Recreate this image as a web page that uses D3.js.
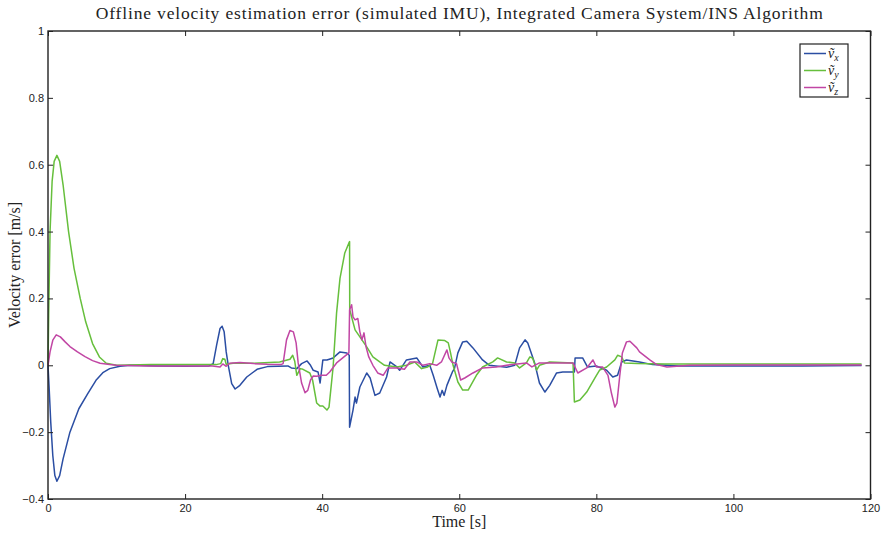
<!DOCTYPE html>
<html>
<head>
<meta charset="utf-8">
<script src="https://cdn.jsdelivr.net/npm/d3@7"></script>
<style>
  body { margin: 0; background: #fff; }
  .tick text { font-family: "Liberation Sans", Arial, sans-serif; font-size: 11px; fill: #222; }
  .serif { font-family: "Liberation Serif", "Times New Roman", serif; fill: #222; }
</style>
</head>
<body>
<script>
// Velocity error data: [time s, error m/s]
const vxPoints = [
  [0,0],[0.15,-0.06],[0.4,-0.17],[0.7,-0.27],[1.0,-0.33],[1.3,-0.347],[1.7,-0.33],[2.2,-0.28],[3.2,-0.2],
  [4.5,-0.13],[5.8,-0.085],[7,-0.045],[8,-0.022],[9,-0.01],[10.5,-0.003],[12,0],[16,-0.002],[20,-0.003],
  [23.5,-0.002],[24.1,0.005],[24.6,0.06],[25.1,0.11],[25.4,0.117],[25.7,0.1],[26,0.04],[26.3,0],[26.8,-0.055],
  [27.3,-0.071],[28,-0.06],[29,-0.035],[30.5,-0.012],[32,-0.004],[35,-0.002],[35.5,-0.008],[36.3,-0.01],
  [37,0.005],[37.8,0.013],[38.3,0],[38.7,-0.015],[39.4,-0.02],[39.7,-0.053],[40.1,0.016],[40.7,0.016],
  [41.6,0.022],[42.6,0.04],[43.6,0.037],[43.95,0.03],[44.0,-0.185],[44.5,-0.134],[44.8,-0.095],[45.0,-0.113],
  [45.5,-0.065],[46.5,-0.023],[47.0,-0.038],[47.7,-0.09],[48.4,-0.083],[49.4,-0.035],[49.9,0.01],[50.9,-0.005],
  [51.3,-0.015],[52.3,0.016],[53.8,0.022],[54.7,-0.005],[55.7,0],[56.2,-0.03],[56.8,-0.07],[57.2,-0.095],
  [57.5,-0.075],[57.8,-0.09],[58.2,-0.06],[58.6,-0.04],[59.0,-0.02],[59.3,-0.01],[59.8,0.037],[60.5,0.07],
  [61.1,0.072],[62,0.052],[63.4,0.016],[64.4,0],[66.9,-0.006],[68.1,0],[68.8,0.052],[69.6,0.076],[70.0,0.067],
  [71,0.007],[71.7,-0.053],[72.5,-0.08],[73.2,-0.06],[74.2,-0.023],[75.1,-0.02],[76.8,-0.02],[76.9,0.022],
  [78,0.022],[78.7,-0.005],[80,-0.002],[81.5,-0.015],[82.4,-0.035],[83.1,-0.03],[83.7,0.01],[84.4,0.016],
  [86.3,0.01],[88.2,0.002],[92,-0.002],[100,-0.002],[110,-0.002],[118.7,-0.001]
];
const vyPoints = [
  [0,0],[0.1,0.15],[0.3,0.4],[0.6,0.55],[0.9,0.61],[1.3,0.628],[1.7,0.61],[2.2,0.54],[3,0.4],[3.8,0.29],
  [4.7,0.2],[5.5,0.13],[6.5,0.065],[7.5,0.025],[8.5,0.006],[10,0],[15,0.002],[20,0.002],[24.5,0.002],
  [25.2,0.005],[25.5,0.02],[25.8,0.018],[26,0.003],[27,0.006],[30,0.006],[33.8,0.01],[35.3,0.018],[35.7,0.03],
  [36.0,0.012],[36.3,-0.03],[36.8,-0.01],[37.2,-0.012],[38.2,-0.023],[38.6,-0.044],[39.2,-0.113],[39.7,-0.122],
  [40.1,-0.122],[40.7,-0.134],[41.0,-0.125],[41.6,-0.005],[42.1,0.156],[42.6,0.26],[43.3,0.336],[43.9,0.366],
  [44.0,0.37],[44.02,0.166],[44.8,0.106],[45.5,0.085],[46.5,0.055],[47.4,0.025],[48.4,0.01],[49.1,0],
  [50.9,-0.005],[52.3,0],[53.5,0.01],[54.5,-0.01],[55.4,-0.005],[56.1,0.005],[56.9,0.076],[57.9,0.074],
  [58.4,0.067],[58.7,0.04],[59.1,0],[59.8,-0.05],[60.5,-0.074],[61.3,-0.074],[62.5,-0.03],[63.4,-0.005],
  [64.9,0.01],[65.6,0.022],[66.9,0.01],[68.1,0.007],[68.8,-0.008],[69.8,0.007],[70.3,0.025],[70.7,0.022],
  [71.3,-0.014],[71.7,0],[73.2,0.01],[76.6,0.007],[76.8,-0.11],[77.6,-0.104],[78.6,-0.08],[79.8,-0.038],
  [80.5,-0.014],[81.5,-0.005],[82.7,0.016],[83.1,0.03],[83.7,0.025],[84.1,0.007],[86,0.005],[90,0.004],
  [100,0.004],[110,0.004],[118.7,0.004]
];
const vzPoints = [
  [0,0],[0.3,0.04],[0.7,0.075],[1.2,0.091],[1.8,0.085],[2.5,0.07],[3.2,0.056],[4.3,0.04],[5.4,0.026],
  [6.5,0.014],[7.6,0.006],[9,0.002],[10,0],[15,-0.002],[20,-0.002],[24,-0.002],[25.1,-0.005],[25.5,0.004],
  [26,-0.003],[26.5,0.006],[28,0.008],[30,0.005],[32,0.003],[34,0.002],[34.3,0.005],[34.8,0.076],[35.3,0.104],
  [35.8,0.1],[36.2,0.067],[36.5,0.007],[37,-0.053],[37.5,-0.082],[37.9,-0.075],[38.3,-0.044],[38.7,-0.032],
  [39.2,-0.033],[39.9,-0.03],[40.6,-0.03],[41.1,-0.02],[42.1,0.007],[43,0.022],[43.9,0.037],[44.0,0.166],
  [44.3,0.181],[44.5,0.145],[44.8,0.136],[45.2,0.14],[45.5,0.1],[45.8,0.076],[46.1,0.097],[46.4,0.055],
  [46.8,0.025],[47.4,0],[48.1,-0.023],[48.9,-0.03],[49.6,-0.008],[50.9,-0.008],[52,-0.012],[52.8,0.01],
  [53.8,0.01],[54.7,0],[55.7,0.005],[56.7,0],[57.4,0.01],[58.2,0.046],[58.5,0.022],[58.9,0.01],[59.6,0.005],
  [60.2,-0.044],[60.8,-0.038],[62,-0.023],[63.4,-0.008],[65.4,-0.005],[66.9,0],[69.8,0.007],[70.6,-0.005],
  [71.7,0.007],[76.6,0.007],[77.3,-0.023],[78.6,-0.008],[79.5,0.016],[80,-0.005],[80.9,-0.005],[81.7,-0.03],
  [82.2,-0.083],[82.7,-0.125],[83,-0.113],[83.4,-0.035],[83.8,0.037],[84.4,0.07],[84.9,0.072],[85.9,0.052],
  [86.3,0.04],[87.8,0.016],[88.8,0.002],[90.3,-0.005],[93.6,0],[100,0.001],[118.7,0.001]
];
const seriesNames = ["x", "y", "z"];
const xTicks = [0, 20, 40, 60, 80, 100, 120];
const yTicks = [-0.4, -0.2, 0, 0.2, 0.4, 0.6, 0.8, 1];

const width = 883, height = 533;
const marginLeft = 48, marginRight = 12, marginTop = 31, marginBottom = 34;

const x = d3.scaleLinear().domain([0, 120]).range([marginLeft, width - marginRight - 0.5]);
const y = d3.scaleLinear().domain([-0.4, 1]).range([height - marginBottom, marginTop]);

const color = d3.scaleOrdinal()
    .domain(seriesNames)
    .range(["#2b4ea3", "#66bf3c", "#c146a4"]);

const svg = d3.select("body").append("svg")
    .attr("width", width)
    .attr("height", height);

// Lines
const line = d3.line().x(d => x(d[0])).y(d => y(d[1]));
[vxPoints, vyPoints, vzPoints].forEach((pts, i) => {
    svg.append("path")
        .datum(pts)
        .attr("fill", "none")
        .attr("stroke", color(seriesNames[i]))
        .attr("stroke-width", 1.5)
        .attr("stroke-linejoin", "round")
        .attr("d", line);
});

// Axes with inward ticks on all four sides
const fmt = d => d === 0 ? "0" : String(d).replace("-", "\u2212");
svg.append("g")
    .attr("transform", `translate(0,${y(-0.4)})`)
    .call(d3.axisBottom(x).tickValues(xTicks).tickFormat(fmt).tickSizeInner(-5).tickSizeOuter(0).tickPadding(5))
    .call(g => g.select(".domain").remove());
svg.append("g")
    .attr("transform", `translate(0,${y(1)})`)
    .call(d3.axisTop(x).tickValues(xTicks).tickFormat("").tickSizeInner(-5).tickSizeOuter(0))
    .call(g => g.select(".domain").remove());
svg.append("g")
    .attr("transform", `translate(${x(0)},0)`)
    .call(d3.axisLeft(y).tickValues(yTicks).tickFormat(fmt).tickSizeInner(-5).tickSizeOuter(0).tickPadding(4))
    .call(g => g.select(".domain").remove());
svg.append("g")
    .attr("transform", `translate(${x(120)},0)`)
    .call(d3.axisRight(y).tickValues(yTicks).tickFormat("").tickSizeInner(-5).tickSizeOuter(0))
    .call(g => g.select(".domain").remove());
svg.selectAll(".tick line").attr("stroke", "#222");

// Box
svg.append("rect")
    .attr("x", x(0)).attr("y", y(1))
    .attr("width", x(120) - x(0)).attr("height", y(-0.4) - y(1))
    .attr("fill", "none").attr("stroke", "#222").attr("stroke-width", 1.4);

// Title and axis labels
svg.append("text")
    .attr("class", "serif")
    .attr("x", (x(0) + x(120)) / 2).attr("y", 19)
    .attr("text-anchor", "middle")
    .attr("textLength", 727)
    .attr("lengthAdjust", "spacing")
    .style("font-size", "17.5px")
    .text("Offline velocity estimation error (simulated IMU), Integrated Camera System/INS Algorithm");

svg.append("text")
    .attr("class", "serif")
    .attr("x", (x(0) + x(120)) / 2).attr("y", 527)
    .attr("text-anchor", "middle")
    .style("font-size", "16px")
    .text("Time [s]");

svg.append("text")
    .attr("class", "serif")
    .attr("transform", `translate(20,${y(0.3)}) rotate(-90)`)
    .attr("text-anchor", "middle")
    .style("font-size", "16px")
    .text("Velocity error [m/s]");

// Legend
const legend = svg.append("g").attr("transform", "translate(800,44)");
legend.append("rect")
    .attr("width", 48).attr("height", 53)
    .attr("fill", "#fff").attr("stroke", "#222").attr("stroke-width", 1.2);
seriesNames.forEach((key, i) => {
    const row = legend.append("g").attr("transform", `translate(0,${9.5 + i * 17})`);
    row.append("line")
        .attr("x1", 4).attr("x2", 26)
        .attr("stroke", color(key)).attr("stroke-width", 1.5);
    const t = row.append("text")
        .attr("class", "serif")
        .attr("x", 28).attr("y", 4)
        .style("font-size", "14px")
        .style("font-style", "italic");
    t.append("tspan").text("v\u0303");
    t.append("tspan").attr("dy", 3).style("font-size", "10px").text(key);
});
</script>
</body>
</html>
